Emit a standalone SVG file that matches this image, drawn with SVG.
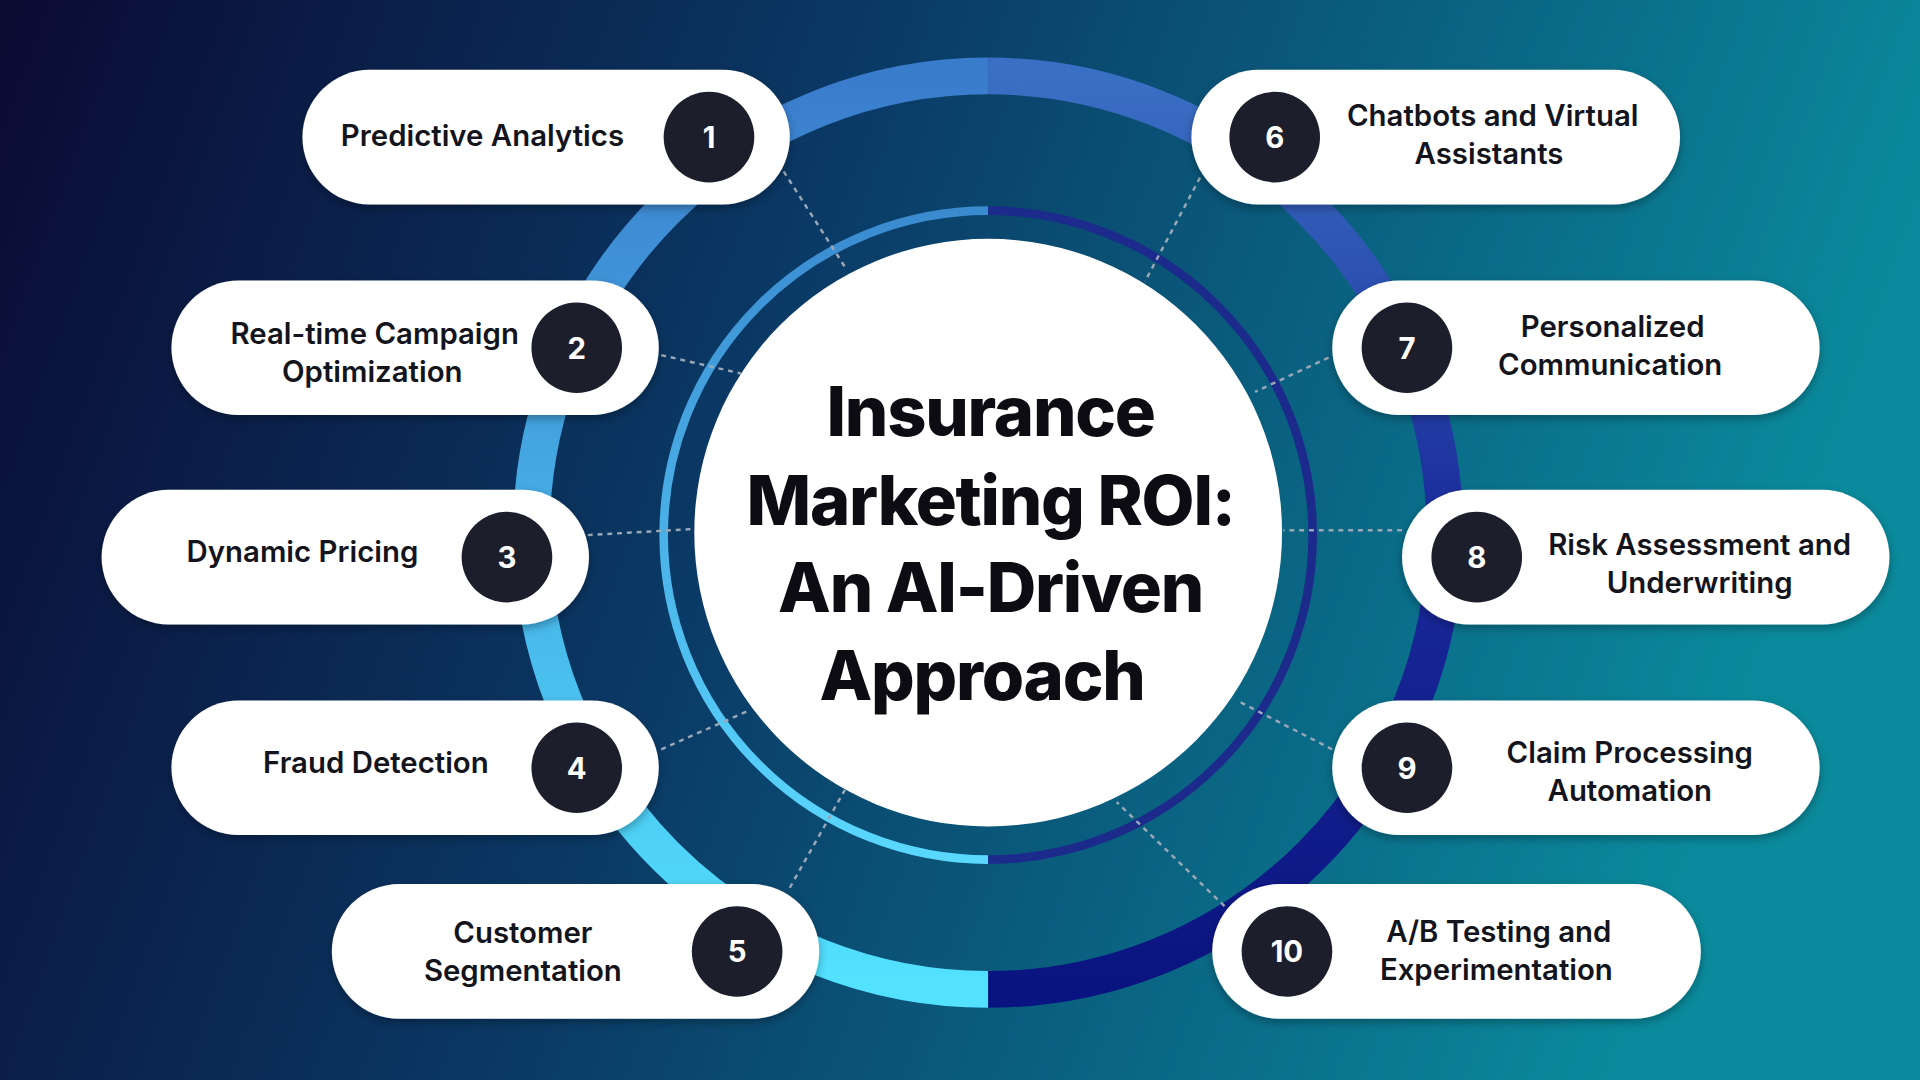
<svg xmlns="http://www.w3.org/2000/svg" width="1920" height="1080" viewBox="0 0 1920 1080">
<defs>
<linearGradient id="bg" x1="0" y1="0" x2="1" y2="0.2">
<stop offset="0" stop-color="#0b0a33"/><stop offset="0.45" stop-color="#0a3a66"/><stop offset="1" stop-color="#0a8a9c"/>
</linearGradient>
<linearGradient id="ringL" x1="0" y1="0" x2="0" y2="1">
<stop offset="0" stop-color="#3a7ccc"/><stop offset="1" stop-color="#52e2ff"/>
</linearGradient>
<linearGradient id="ringR" x1="0" y1="0" x2="0" y2="1">
<stop offset="0" stop-color="#3a70c4"/><stop offset="0.5" stop-color="#1a2a9a"/><stop offset="1" stop-color="#0a1480"/>
</linearGradient>
<linearGradient id="inL" x1="0" y1="0" x2="0" y2="1">
<stop offset="0" stop-color="#3a8ad0"/><stop offset="1" stop-color="#5ad8ff"/>
</linearGradient>
<filter id="sh" x="-10%" y="-20%" width="120%" height="150%">
<feDropShadow dx="0" dy="3" stdDeviation="4" flood-color="#000" flood-opacity="0.3"/>
</filter>
<style>
.pill{fill:#fff;filter:url(#sh)}
.ring{fill:#fff}
.num{fill:#1c1e2b}
.nt{fill:#fff;font-family:Inter,"Liberation Sans",sans-serif;font-weight:700;font-size:24px;text-anchor:middle}
.lt{fill:#14141c;font-family:Inter,"Liberation Sans",sans-serif;font-weight:600;font-size:24px;text-anchor:middle}
.title{fill:#0c0c12;font-family:Inter,"Liberation Sans",sans-serif;font-weight:800;font-size:56px;letter-spacing:-1px;text-anchor:middle}
.dot{stroke:#9aa8b8;stroke-width:2;stroke-dasharray:4 4;fill:none}
</style>
</defs>
<rect width="1920" height="1080" fill="url(#bg)"/>
<g transform="scale(1.2245)">
<g id="rings">
<path d="M807,62 A373,373 0 0 0 807,808" fill="none" stroke="url(#ringL)" stroke-width="30"/>
<path d="M807,62 A373,373 0 0 1 807,808" fill="none" stroke="url(#ringR)" stroke-width="30"/>
<path d="M807,172 A265,265 0 0 0 807,702" fill="none" stroke="url(#inL)" stroke-width="7"/>
<path d="M807,172 A265,265 0 0 1 807,702" fill="none" stroke="#1c2a8c" stroke-width="7"/>
</g>
<g id="connectors">
<line class="dot" x1="640" y1="140" x2="690" y2="218"/>
<line class="dot" x1="540" y1="290" x2="605" y2="305"/>
<line class="dot" x1="480" y1="437" x2="566" y2="432"/>
<line class="dot" x1="540" y1="612" x2="612" y2="580"/>
<line class="dot" x1="645" y1="725" x2="690" y2="645"/>
<line class="dot" x1="980" y1="145" x2="935" y2="230"/>
<line class="dot" x1="1085" y1="292" x2="1025" y2="320"/>
<line class="dot" x1="1145" y1="433" x2="1048" y2="433"/>
<line class="dot" x1="1088" y1="612" x2="1010" y2="572"/>
<line class="dot" x1="1000" y1="740" x2="912" y2="655"/>
</g>
<g id="center">
<circle cx="807" cy="435" r="240" fill="#fff"/>
<text class="title" x="809" y="356">Insurance</text>
<text class="title" x="809" y="429">Marketing ROI:</text>
<text class="title" x="809" y="500">An AI-Driven</text>
<text class="title" x="802" y="572">Approach</text>
</g>
<g id="n1"><rect class="pill" x="247" y="57" width="398" height="110" rx="55"/><circle class="ring" cx="579" cy="112" r="46"/><circle class="num" cx="579" cy="112" r="37"/><text class="nt" x="579" y="121">1</text><text class="lt" x="394" y="119">Predictive Analytics</text></g>
<g id="n2"><rect class="pill" x="140" y="229" width="398" height="110" rx="55"/><circle class="ring" cx="471" cy="284" r="46"/><circle class="num" cx="471" cy="284" r="37"/><text class="nt" x="471" y="293">2</text><text class="lt" x="306" y="281">Real-time Campaign</text><text class="lt" x="304" y="312">Optimization</text></g>
<g id="n3"><rect class="pill" x="83" y="400" width="398" height="110" rx="55"/><circle class="ring" cx="414" cy="455" r="46"/><circle class="num" cx="414" cy="455" r="37"/><text class="nt" x="414" y="464">3</text><text class="lt" x="247" y="459">Dynamic Pricing</text></g>
<g id="n4"><rect class="pill" x="140" y="572" width="398" height="110" rx="55"/><circle class="ring" cx="471" cy="627" r="46"/><circle class="num" cx="471" cy="627" r="37"/><text class="nt" x="471" y="636">4</text><text class="lt" x="307" y="631">Fraud Detection</text></g>
<g id="n5"><rect class="pill" x="271" y="722" width="398" height="110" rx="55"/><circle class="ring" cx="602" cy="777" r="46"/><circle class="num" cx="602" cy="777" r="37"/><text class="nt" x="602" y="786">5</text><text class="lt" x="427" y="770">Customer</text><text class="lt" x="427" y="801">Segmentation</text></g>
<g id="n6"><rect class="pill" x="973" y="57" width="399" height="110" rx="55"/><circle class="ring" cx="1041" cy="112" r="46"/><circle class="num" cx="1041" cy="112" r="37"/><text class="nt" x="1041" y="121">6</text><text class="lt" x="1219" y="103">Chatbots and Virtual</text><text class="lt" x="1216" y="134">Assistants</text></g>
<g id="n7"><rect class="pill" x="1088" y="229" width="398" height="110" rx="55"/><circle class="ring" cx="1149" cy="284" r="46"/><circle class="num" cx="1149" cy="284" r="37"/><text class="nt" x="1149" y="293">7</text><text class="lt" x="1317" y="275">Personalized</text><text class="lt" x="1315" y="306">Communication</text></g>
<g id="n8"><rect class="pill" x="1145" y="400" width="398" height="110" rx="55"/><circle class="ring" cx="1206" cy="455" r="46"/><circle class="num" cx="1206" cy="455" r="37"/><text class="nt" x="1206" y="464">8</text><text class="lt" x="1388" y="453">Risk Assessment and</text><text class="lt" x="1388" y="484">Underwriting</text></g>
<g id="n9"><rect class="pill" x="1088" y="572" width="398" height="110" rx="55"/><circle class="ring" cx="1149" cy="627" r="46"/><circle class="num" cx="1149" cy="627" r="37"/><text class="nt" x="1149" y="636">9</text><text class="lt" x="1331" y="623">Claim Processing</text><text class="lt" x="1331" y="654">Automation</text></g>
<g id="n10"><rect class="pill" x="990" y="722" width="399" height="110" rx="55"/><circle class="ring" cx="1051" cy="777" r="46"/><circle class="num" cx="1051" cy="777" r="37"/><text class="nt" x="1051" y="786">10</text><text class="lt" x="1224" y="769">A/B Testing and</text><text class="lt" x="1222" y="800">Experimentation</text></g>
</g>
</svg>
